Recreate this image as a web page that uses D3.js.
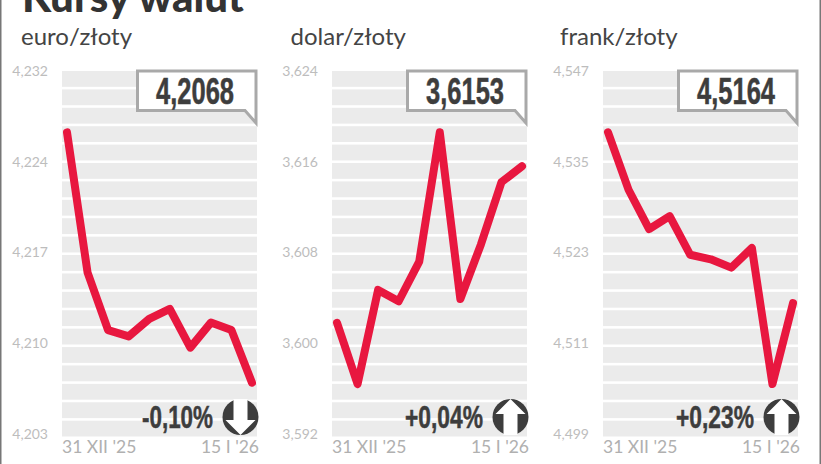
<!DOCTYPE html>
<html>
<head>
<meta charset="utf-8">
<script src="https://cdn.jsdelivr.net/npm/d3@7"></script>
<style>
  html, body { margin: 0; padding: 0; background: #fff; }
  svg { display: block; }
  .lato { font-family: Lato, sans-serif; }
  .narrow { font-family: "Liberation Sans", sans-serif; font-weight: 700; fill: #3d3d3d; stroke: #3d3d3d; stroke-width: 0.5; }
</style>
</head>
<body>
<div id="chart"></div>
<script>
const dates = ['31 XII', '2 I', '5 I', '7 I', '8 I', '9 I', '12 I', '13 I', '14 I', '15 I']
const stripes = d3.range(20)

const euroValues = [4.2271, 4.2159, 4.2113, 4.2108, 4.2122, 4.2130, 4.2099, 4.2119, 4.2113, 4.2071]
const dolarValues = [3.6018, 3.5964, 3.6047, 3.6037, 3.6072, 3.6186, 3.6039, 3.6087, 3.6142, 3.6156]
const frankValues = [4.5389, 4.5313, 4.5261, 4.5278, 4.5227, 4.5221, 4.5210, 4.5236, 4.5056, 4.5163]

const euroTicks = [4.203, 4.21025, 4.2175, 4.22475, 4.232]
const dolarTicks = [3.592, 3.6, 3.608, 3.616, 3.624]
const frankTicks = [4.499, 4.511, 4.523, 4.535, 4.547]

const euroLabels = ['4,203', '4,210', '4,217', '4,224', '4,232']
const dolarLabels = ['3,592', '3,600', '3,608', '3,616', '3,624']
const frankLabels = ['4,499', '4,511', '4,523', '4,535', '4,547']

const width = 821
const height = 464
const plotTop = 71
const plotBottom = 434
const plotW = 195

const svg = d3.select('#chart').append('svg')
  .attr('width', width)
  .attr('height', height)

// ramki po bokach
svg.append('rect').attr('x', 0).attr('y', 0).attr('width', 1.5).attr('height', height).attr('fill', '#777')
svg.append('rect').attr('x', 819.5).attr('y', 0).attr('width', 1.5).attr('height', height).attr('fill', '#777')

svg.append('text')
  .attr('x', 22).attr('y', 12)
  .attr('font-family', 'Lato, sans-serif')
  .attr('font-weight', 900)
  .attr('font-size', 42)
  .attr('fill', '#333')
  .text('Kursy walut')

function drawPanel(x0, name, nameX, values, ticks, labels, callout, change, changeW, up) {
  const g = svg.append('g').attr('transform', `translate(${x0}, 0)`)

  const y = d3.scaleLinear().domain([ticks[0], ticks[4]]).range([plotBottom, plotTop])
  const x = d3.scalePoint().domain(dates).range([5, plotW - 5])
  const band = d3.scaleBand().domain(stripes).range([plotTop, plotBottom + 2.5]).paddingInner(0.14).paddingOuter(0)

  g.append('text')
    .attr('class', 'lato')
    .attr('x', nameX).attr('y', 45)
    .attr('font-size', 24)
    .attr('fill', '#444')
    .text(name)

  g.selectAll('.stripe').data(stripes).join('rect')
    .attr('class', 'stripe')
    .attr('x', 0)
    .attr('y', d => band(d))
    .attr('width', plotW)
    .attr('height', band.bandwidth())
    .attr('fill', '#ebebeb')

  const axis = d3.axisLeft(y)
    .tickValues(ticks)
    .tickSize(0)
    .tickPadding(14)
    .tickFormat((d, i) => labels[i])

  const axisG = g.append('g').call(axis)
  axisG.select('.domain').remove()
  axisG.selectAll('text')
    .attr('font-family', 'Lato, sans-serif')
    .attr('font-size', 14)
    .attr('fill', '#bdbdbd')

  const line = d3.line()
    .x((d, i) => x(dates[i]))
    .y(d => y(d))

  g.append('path')
    .attr('d', line(values))
    .attr('fill', 'none')
    .attr('stroke', '#e8173f')
    .attr('stroke-width', 8)
    .attr('stroke-linecap', 'round')
    .attr('stroke-linejoin', 'round')

  // dymek z kursem
  g.append('path')
    .attr('d', 'M75.5,71 H194 V123 L183,110.5 H75.5 Z')
    .attr('fill', '#fff')
    .attr('stroke', '#a9a9a9')
    .attr('stroke-width', 3)

  g.append('text')
    .attr('class', 'narrow')
    .attr('x', 133).attr('y', 104)
    .attr('text-anchor', 'middle')
    .attr('font-size', 36)
    .attr('textLength', 78)
    .attr('lengthAdjust', 'spacingAndGlyphs')
    .text(callout)

  g.append('text')
    .attr('class', 'narrow')
    .attr('x', 151).attr('y', 428)
    .attr('text-anchor', 'end')
    .attr('font-size', 31)
    .attr('textLength', changeW)
    .attr('lengthAdjust', 'spacingAndGlyphs')
    .text(change)

  // kolko ze strzalka
  const icon = g.append('g').attr('transform', `translate(178.5, 417) scale(1, ${up ? 1 : -1})`)
  icon.append('circle').attr('r', 18).attr('fill', '#3d3d3d')
  icon.append('path')
    .attr('d', 'M0,-18 L15,-3 H7 V18 H-7 V-3 H-15 Z')
    .attr('fill', '#fff')

  g.append('text')
    .attr('class', 'lato')
    .attr('x', 0).attr('y', 453)
    .attr('font-size', 17.5)
    .attr('fill', '#b0b0b0')
    .text("31 XII '25")

  g.append('text')
    .attr('class', 'lato')
    .attr('x', plotW + 2).attr('y', 453)
    .attr('text-anchor', 'end')
    .attr('font-size', 17.5)
    .attr('fill', '#b0b0b0')
    .text("15 I '26")
}

drawPanel(62, 'euro/złoty', -41, euroValues, euroTicks, euroLabels, '4,2068', '-0,10%', 71, false)
drawPanel(332, 'dolar/złoty', -41.5, dolarValues, dolarTicks, dolarLabels, '3,6153', '+0,04%', 78, true)
drawPanel(603, 'frank/złoty', -43, frankValues, frankTicks, frankLabels, '4,5164', '+0,23%', 78, true)
</script>
</body>
</html>
